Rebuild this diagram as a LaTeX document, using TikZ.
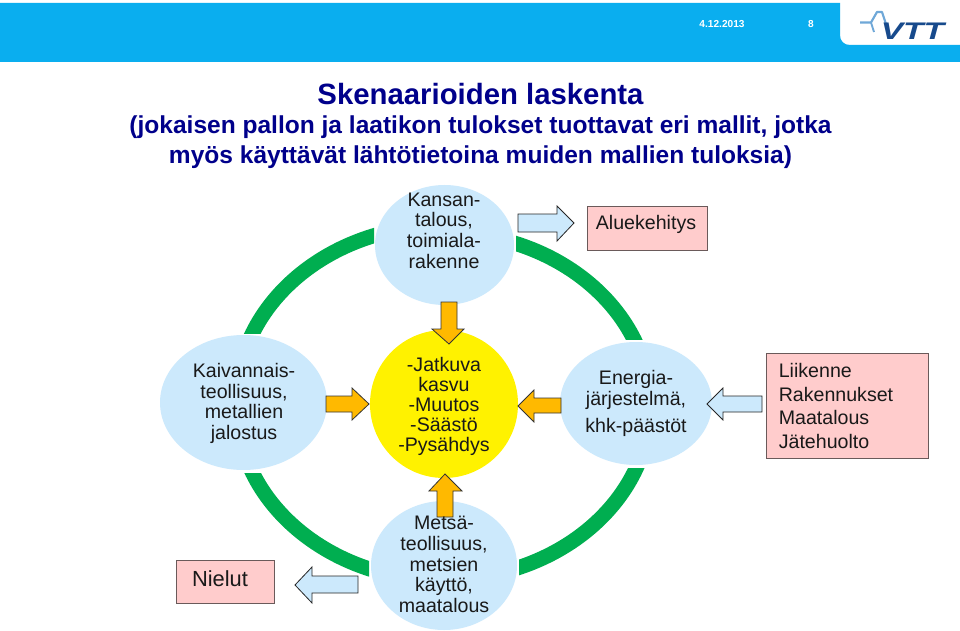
\documentclass[tikz,border=0pt]{standalone}
\usepackage{fontspec}
\setmainfont{Liberation Sans}
\definecolor{hdrblue}{HTML}{0AAEEF}
\definecolor{titleblue}{HTML}{00008B}
\definecolor{bubble}{HTML}{CCE9FC}
\definecolor{pinkbox}{HTML}{FFCCCC}
\definecolor{goldarrow}{HTML}{FFB900}
\definecolor{ringgreen}{HTML}{00AE50}
\definecolor{vttdark}{HTML}{174A8C}
\definecolor{vttlight}{HTML}{6FA8D8}
\definecolor{boxedge}{HTML}{6A5A5A}
\tikzset{
  bodytext/.style={font=\fontsize{14.7}{15.5}\selectfont,align=center,text=black!90},
  pinkrect/.style={fill=pinkbox,draw=boxedge,line width=0.7pt},
  blockblue/.style={fill=bubble,draw=black!85,line width=0.6pt,line join=miter},
  blockgold/.style={fill=goldarrow,draw=black!80,line width=0.6pt,line join=miter},
  headline/.style={text=titleblue,font=\fontsize{18.4}{20}\bfseries\selectfont},
  hdrtext/.style={text=white,font=\fontsize{7.6}{9}\bfseries\selectfont}
}
\newcommand{\ringarc}[5]{%
  \begin{scope}
    \clip (#1,#2) rectangle (#3,#4);
    \fill[ringgreen,even odd rule] (443.5,#5) ellipse [x radius=214.5,y radius=183]
      (443.5,#5) ellipse [x radius=199.5,y radius=168];
  \end{scope}}
\begin{document}
\begin{tikzpicture}[x=0.75pt,y=-0.75pt]
\useasboundingbox (0,0) rectangle (960,631);
\fill[white] (0,0) rectangle (960,631);
% header
\fill[hdrblue] (0,3) -- (840,3) -- (840,35) .. controls (840,41) and (844,45) .. (850,45) -- (960,45) -- (960,62) -- (0,62) -- cycle;
\node[hdrtext] (date) at (722,24.5) {4.12.2013};
\node[hdrtext] (page) at (811,24.5) {8};
% logo
\draw[vttlight,line width=1.6pt,line join=round] (860,22.5) -- (871,22.5) -- (877,12) -- (882,12) -- (886,24);
\draw[vttlight,line width=1.4pt] (871,22.5) -- (874,32);
\node[text=vttdark,inner sep=0pt,font=\fontsize{18}{20}\bfseries\itshape\selectfont] (vtt) at (912.5,31.5) {\scalebox{1.4}[1]{VTT}};
% title
\node[text=titleblue,font=\fontsize{22}{24}\bfseries\selectfont] (title) at (480.5,94) {Skenaarioiden laskenta};
\node[headline] (sub1) at (480.5,127.5) {(jokaisen pallon ja laatikon tulokset tuottavat eri mallit, jotka};
\node[headline] (sub2) at (480.5,157.5) {myös käyttävät lähtötietoina muiden mallien tuloksia)};
% ring
\ringarc{200}{150}{374}{333}{401}
\ringarc{516}{150}{700}{339}{408}
\ringarc{200}{473}{369}{650}{405}
\ringarc{519}{468}{700}{650}{404}
% bubbles
\fill[bubble] (444.5,245) ellipse [x radius=69.5,y radius=60];
\fill[bubble] (243.5,402.5) ellipse [x radius=83.5,y radius=67.5];
\fill[yellow] (444,404) ellipse [x radius=74,y radius=74];
\fill[bubble] (636,403.5) ellipse [x radius=76,y radius=61.5];
\fill[bubble] (444,565.5) ellipse [x radius=73,y radius=64.5];
% boxes
\draw[pinkrect] (587,206) rectangle (707,250);
\draw[pinkrect] (766,353) rectangle (928,458);
\draw[pinkrect] (176,560) rectangle (274,603);
% block arrows
\draw[blockblue] (518,214) -- (557,214) -- (557,206) -- (574,223) -- (557,241) -- (557,232) -- (518,232) -- cycle;
\draw[blockgold] (441,302) -- (457,302) -- (457,329) -- (464,329) -- (449,344) -- (432,329) -- (441,329) -- cycle;
\draw[blockgold] (437,517) -- (453,517) -- (453,491) -- (462,491) -- (445,474) -- (429,491) -- (437,491) -- cycle;
\draw[blockgold] (326,396) -- (352,396) -- (352,388) -- (369,404) -- (352,420) -- (352,412) -- (326,412) -- cycle;
\draw[blockgold] (561,398) -- (534,398) -- (534,390) -- (518,406) -- (534,422) -- (534,413) -- (561,413) -- cycle;
\draw[blockblue] (762,396) -- (723,396) -- (723,388) -- (707,404) -- (723,420) -- (723,412) -- (762,412) -- cycle;
\draw[blockblue] (358,576) -- (312,576) -- (312,567) -- (295,585) -- (312,603) -- (312,593) -- (358,593) -- cycle;
% texts
\node[bodytext] (kansan) at (444,230.5) {Kansan-\\talous,\\toimiala-\\rakenne};
\node[bodytext] (aluek) at (646,224) {Aluekehitys};
\node[bodytext] (kaiv) at (244,403.5) {Kaivannais-\\teollisuus,\\metallien\\jalostus};
\node[bodytext,font=\fontsize{14.7}{15}\selectfont] (jatk) at (444,406) {-Jatkuva\\kasvu\\-Muutos\\-Säästö\\-Pysähdys};
\node[bodytext] (energia) at (636,403.5) {Energia-\\järjestelmä,\\[4.5pt]khk-päästöt};
\node[bodytext,align=left,font=\fontsize{14.7}{17.6}\selectfont] (liik) at (836,406) {Liikenne\\Rakennukset\\Maatalous\\Jätehuolto};
\node[bodytext] (metsa) at (444,564.5) {Metsä-\\teollisuus,\\metsien\\käyttö,\\maatalous};
\node[bodytext,font=\fontsize{16.4}{18}\selectfont] (nielut) at (220,579) {Nielut};
\end{tikzpicture}
\end{document}
